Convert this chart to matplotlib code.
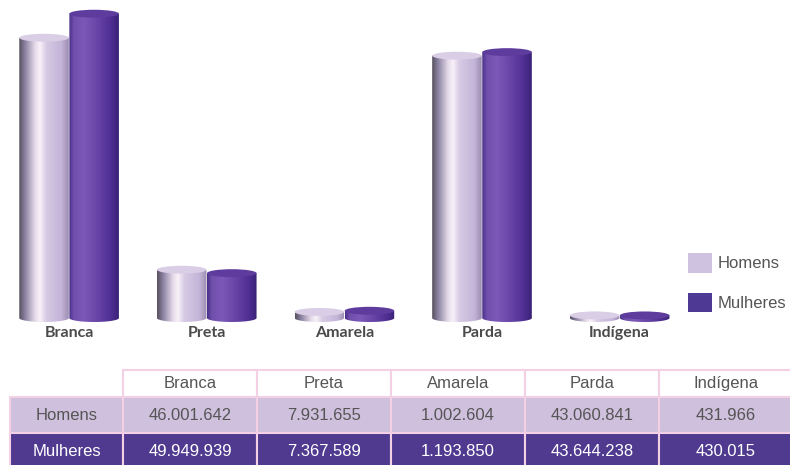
import numpy as np
import matplotlib
matplotlib.use("Agg")
import matplotlib.pyplot as plt
from matplotlib.colors import LinearSegmentedColormap
from matplotlib.patches import Ellipse, PathPatch, Patch, Rectangle
from matplotlib.path import Path

# data
categories = ["Branca", "Preta", "Amarela", "Parda", "Indígena"]
series = ["Homens", "Mulheres"]
homens = [46001642, 7931655, 1002604, 43060841, 431966]
mulheres = [49949939, 7367589, 1193850, 43644238, 430015]

fig = plt.figure(figsize=(7.9, 4.65), dpi=100)
ax = fig.add_axes([0, 0.258, 0.861, 0.742])
ax.axis("off")

# cylinder shading (left -> right)
cmap_h = LinearSegmentedColormap.from_list("h", [
    (0, "#56505f"), (0.12, "#8a82a0"), (0.32, "#e4daea"), (0.42, "#f8f2f8"),
    (0.55, "#d6cae4"), (0.85, "#c4b4d8"), (1, "#9a8cb0")])
cmap_m = LinearSegmentedColormap.from_list("m", [
    (0, "#4a3088"), (0.1, "#7050ac"), (0.3, "#7c58b8"), (0.55, "#6a46a8"),
    (0.85, "#4e2e92"), (1, "#3a2276")])
top_h = "#d9cee6"
top_m = "#5e3c9e"

width = 0.36
ry = 0.65e6  # half height of the ellipses
grad = np.linspace(0, 1, 256).reshape(1, -1)


def cylinder(cx, val, cmap, topcol):
    x0, x1 = cx - width / 2, cx + width / 2
    t = np.linspace(np.pi, 2 * np.pi, 60)
    xs = cx + width / 2 * np.cos(t)
    ys = ry * np.sin(t)
    verts = list(zip(xs, ys)) + [(x1, val), (x0, val), (xs[0], ys[0])]
    codes = [Path.MOVETO] + [Path.LINETO] * (len(verts) - 2) + [Path.CLOSEPOLY]
    pp = PathPatch(Path(verts, codes), transform=ax.transData,
                   facecolor="none", edgecolor="none")
    ax.add_patch(pp)
    im = ax.imshow(grad, cmap=cmap, extent=(x0, x1, -ry, val), aspect="auto",
                   interpolation="bilinear", zorder=2)
    im.set_clip_path(pp)
    ax.add_patch(Ellipse((cx, val), width, 2 * ry, facecolor=topcol,
                         edgecolor="none", zorder=3))


for i, cat in enumerate(categories):
    cylinder(i - 0.182, homens[i], cmap_h, top_h)
    cylinder(i + 0.182, mulheres[i], cmap_m, top_m)
    ax.text(i, -2.5e6, cat, ha="center", va="center", fontsize=11.5,
            fontfamily="Lato", fontweight="bold", color="#4a4a4a")

ax.set_xlim(-0.502, 4.44)
ax.set_ylim(-4.43e6, 52.2e6)

# legend
handles = [Patch(facecolor="#cfc2e0", edgecolor="none"),
           Patch(facecolor="#4e3a94", edgecolor="none")]
fig.legend(handles, series, loc="upper left",
           bbox_to_anchor=(688 / 790, 1 - 253 / 465), frameon=False,
           prop={"family": "Liberation Sans", "size": 12},
           handlelength=1.44, handleheight=1.44, handletextpad=0.36,
           labelspacing=1.2, borderpad=0, borderaxespad=0, labelcolor="#555555")

# table, laid out in pixel units
fmt = lambda v: f"{v:,}".replace(",", ".")
tax = fig.add_axes([0, 0, 1, 1])
tax.axis("off")
tax.set_xlim(0, 790)
tax.set_ylim(465, 0)

border = "#f3d0e4"
col_x = [123 + 134 * k for k in range(len(categories))]
col_w = 134
row_y = [370, 397, 433]
row_h = [27, 36, 36]
fills = ["white", "#cfc0dd", "#4f3a90"]
tcols = ["#555555", "#555555", "white"]

rows = [categories, [fmt(v) for v in homens], [fmt(v) for v in mulheres]]
labels = ["", series[0], series[1]]

for r in range(3):
    y0, h = row_y[r], row_h[r]
    if r > 0:
        tax.add_patch(Rectangle((10, y0), 113, h, facecolor=fills[r],
                                edgecolor=border, linewidth=1.5))
        tax.text(10 + 113 / 2, y0 + h / 2, labels[r], ha="center", va="center",
                 fontsize=12, fontfamily="Liberation Sans", color=tcols[r])
    for c, txt in enumerate(rows[r]):
        tax.add_patch(Rectangle((col_x[c], y0), col_w, h, facecolor=fills[r],
                                edgecolor=border, linewidth=1.5))
        tax.text(col_x[c] + col_w / 2, y0 + h / 2, txt, ha="center", va="center",
                 fontsize=12, fontfamily="Liberation Sans", color=tcols[r])

fig.savefig("out.png", dpi=100)
